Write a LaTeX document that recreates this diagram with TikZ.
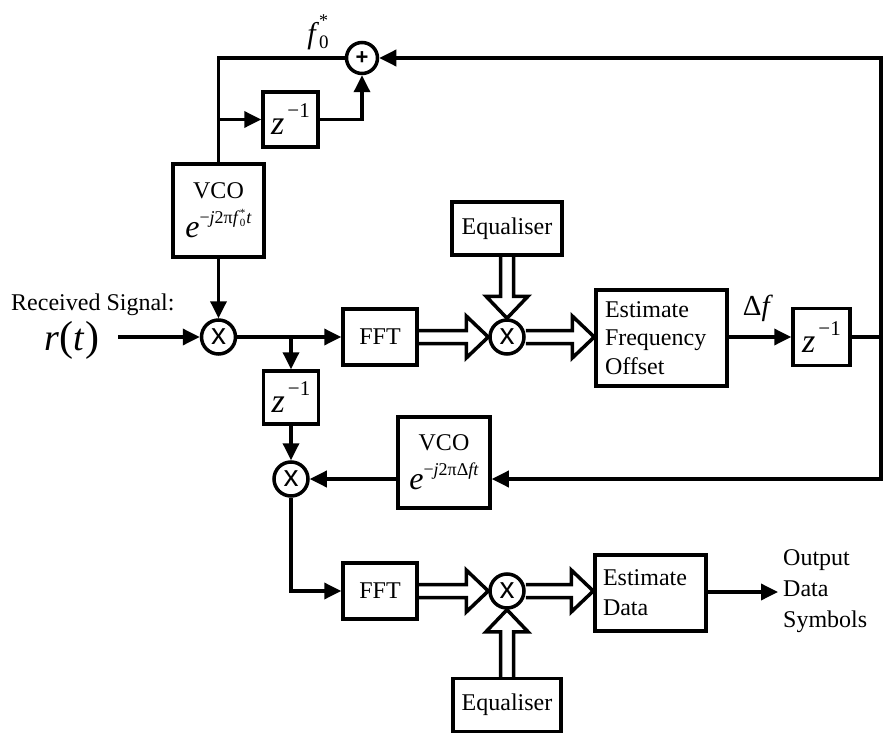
\documentclass[tikz,border=0pt]{standalone}
\usepackage{fontspec}
\setmainfont{Liberation Serif}
\newfontfamily\sansf{Liberation Sans}
\usetikzlibrary{arrows.meta,calc}

\newcommand\zinv{{\fontsize{34}{34}\selectfont\textit{z}}\kern3pt\raisebox{17pt}{\fontsize{21}{21}\selectfont −1}}
\newcommand\expo[1]{{\fontsize{32}{32}\selectfont\textit{e}}\raisebox{14pt}{\fontsize{18}{18}\selectfont #1}}
\newcommand\dblarr[2]{%
  \coordinate (da-a) at (#1);
  \coordinate (da-b) at (#2);
  \coordinate (da-h) at ($(da-b)!22pt!(da-a)$);
  \draw[dbl] ($(da-a)!6.5pt!90:(da-b)$) -- ($(da-h)!6.5pt!90:(da-b)$) -- ($(da-h)!21pt!90:(da-b)$) -- (da-b) -- ($(da-h)!21pt!-90:(da-b)$) -- ($(da-h)!6.5pt!-90:(da-b)$) -- ($(da-a)!6.5pt!-90:(da-b)$);
}

\tikzset{
  blk/.style={draw, line width=3.5pt, inner sep=0pt, fill=white, font=\rmfamily\fontsize{24}{28}\selectfont},
  mul/.style={draw, circle, line width=3.5pt, minimum size=34pt, inner sep=0pt, font=\sansf\fontsize{30}{30}\selectfont},
  addr/.style={draw, circle, line width=3.5pt, minimum size=31pt, inner sep=0pt, font=\sansf\bfseries\fontsize{22}{22}\selectfont},
  wire/.style={line width=3.5pt},
  arr/.style={wire, -{Triangle[length=17pt,width=16pt]}},
  dbl/.style={line width=3.5pt, line join=miter, miter limit=10},
  txt/.style={inner sep=0pt, font=\rmfamily\fontsize{24}{28.5}\selectfont},
}

\begin{document}
\begin{tikzpicture}[x=1pt, y=-1pt]
\useasboundingbox (0,0) rectangle (884,733);

% nodes
\node[addr] (add) at (362,58) {+};
\node[blk, minimum width=55pt, minimum height=55pt] (zt) at (290.5,119.5) {\zinv};
\node[blk, minimum width=91pt, minimum height=93pt, align=center, font=\rmfamily\fontsize{24}{30}\selectfont] (vco1) at (218.5,210.5) {VCO\\[9pt]\expo{−\textit{j}2π\textit{f}\rlap{\raisebox{7pt}{\fontsize{11}{11}\selectfont *}}\raisebox{-3pt}{\fontsize{11}{11}\selectfont 0}\kern1pt\textit{t}}};
\node[mul] (m1) at (218.5,337) {x};
\node[blk, minimum width=74pt, minimum height=56pt] (fft1) at (380,337) {FFT};
\node[blk, minimum width=110pt, minimum height=53pt] (eq1) at (507,228.5) {Equaliser};
\node[mul] (m2) at (507,337) {x};
\node[blk, minimum width=131pt, minimum height=96pt, align=left, text width=113pt, font=\rmfamily\fontsize{24}{28.5}\selectfont] (est1) at (661.5,338) {Estimate\\Frequency\\Offset};
\node[blk, minimum width=57pt, minimum height=57pt] (zr) at (821.5,337) {\zinv};
\node[blk, minimum width=55pt, minimum height=53pt] (zb) at (291,397.5) {\zinv};
\node[mul] (m3) at (291,479) {x};
\node[blk, minimum width=92pt, minimum height=91pt, align=center, font=\rmfamily\fontsize{24}{30}\selectfont] (vco2) at (444,462.5) {VCO\\[9pt]\expo{−\textit{j}2πΔ\textit{ft}}};
\node[blk, minimum width=74pt, minimum height=56pt] (fft2) at (380,591) {FFT};
\node[mul] (m4) at (507,591) {x};
\node[blk, minimum width=108pt, minimum height=53pt] (eqb) at (507,705) {Equaliser};
\node[blk, minimum width=111pt, minimum height=76pt, align=left, text width=95pt, font=\rmfamily\fontsize{24}{30}\selectfont] (estd) at (650.5,593) {Estimate\\Data};

% labels
\node[txt, anchor=west] (rs) at (11,305) {Received Signal:};
\node[inner sep=0pt, font=\rmfamily] (rt) at (72,340) {{\fontsize{38}{38}\selectfont\textit{r}}{\fontsize{42}{42}\selectfont(}{\fontsize{38}{38}\selectfont\textit{t}}{\fontsize{42}{42}\selectfont)}};
\node[inner sep=0pt, font=\rmfamily] (f0) at (318,32) {{\fontsize{30}{30}\selectfont\textit{f}}\rlap{\raisebox{17pt}{\fontsize{18}{18}\selectfont *}}\raisebox{-5pt}{\fontsize{19}{19}\selectfont 0}};
\node[inner sep=0pt, font=\rmfamily] (df) at (758,308) {{\fontsize{29}{29}\selectfont Δ\textit{f}}};
\node[txt, anchor=west, align=left, font=\rmfamily\fontsize{24}{31}\selectfont] (outt) at (783,591) {Output\\Data\\Symbols};

% coordinates
\coordinate (rin) at (118,337);
\coordinate (rmid) at (881,337);
\coordinate (outc) at (778,592);

% single-line connectors
\draw[arr] (rin) -- (m1.west);
\draw[arr] (vco1.south) -- (m1.north);
\draw[wire] (vco1.north) |- (add.west);
\draw[arr] (vco1.north |- zt.west) -- (zt.west);
\draw[arr] (zt.east) -| (add.south);
\draw[arr] (m1.east) -- (fft1.west);
\draw[arr] (zb.north |- m1) -- (zb.north);
\draw[arr] (zb.south) -- (m3.north);
\draw[arr] (m3.south) |- (fft2.west);
\draw[arr] (est1.east |- zr.west) -- (zr.west);
\draw[wire] (zr.east) -- (rmid);
\draw[arr] (rmid) |- (add.east);
\draw[arr] (rmid) |- (vco2.east |- m3);
\draw[arr] (vco2.west |- m3) -- (m3.east);
\draw[arr] (estd.east |- outc) -- (outc);

% double (vector) connectors
\dblarr{fft1.east}{m2.west}
\dblarr{eq1.south}{m2.north}
\dblarr{m2.east}{est1.west |- m2}
\dblarr{fft2.east}{m4.west}
\dblarr{eqb.north}{m4.south}
\dblarr{m4.east}{estd.west |- m4}
\end{tikzpicture}
\end{document}
